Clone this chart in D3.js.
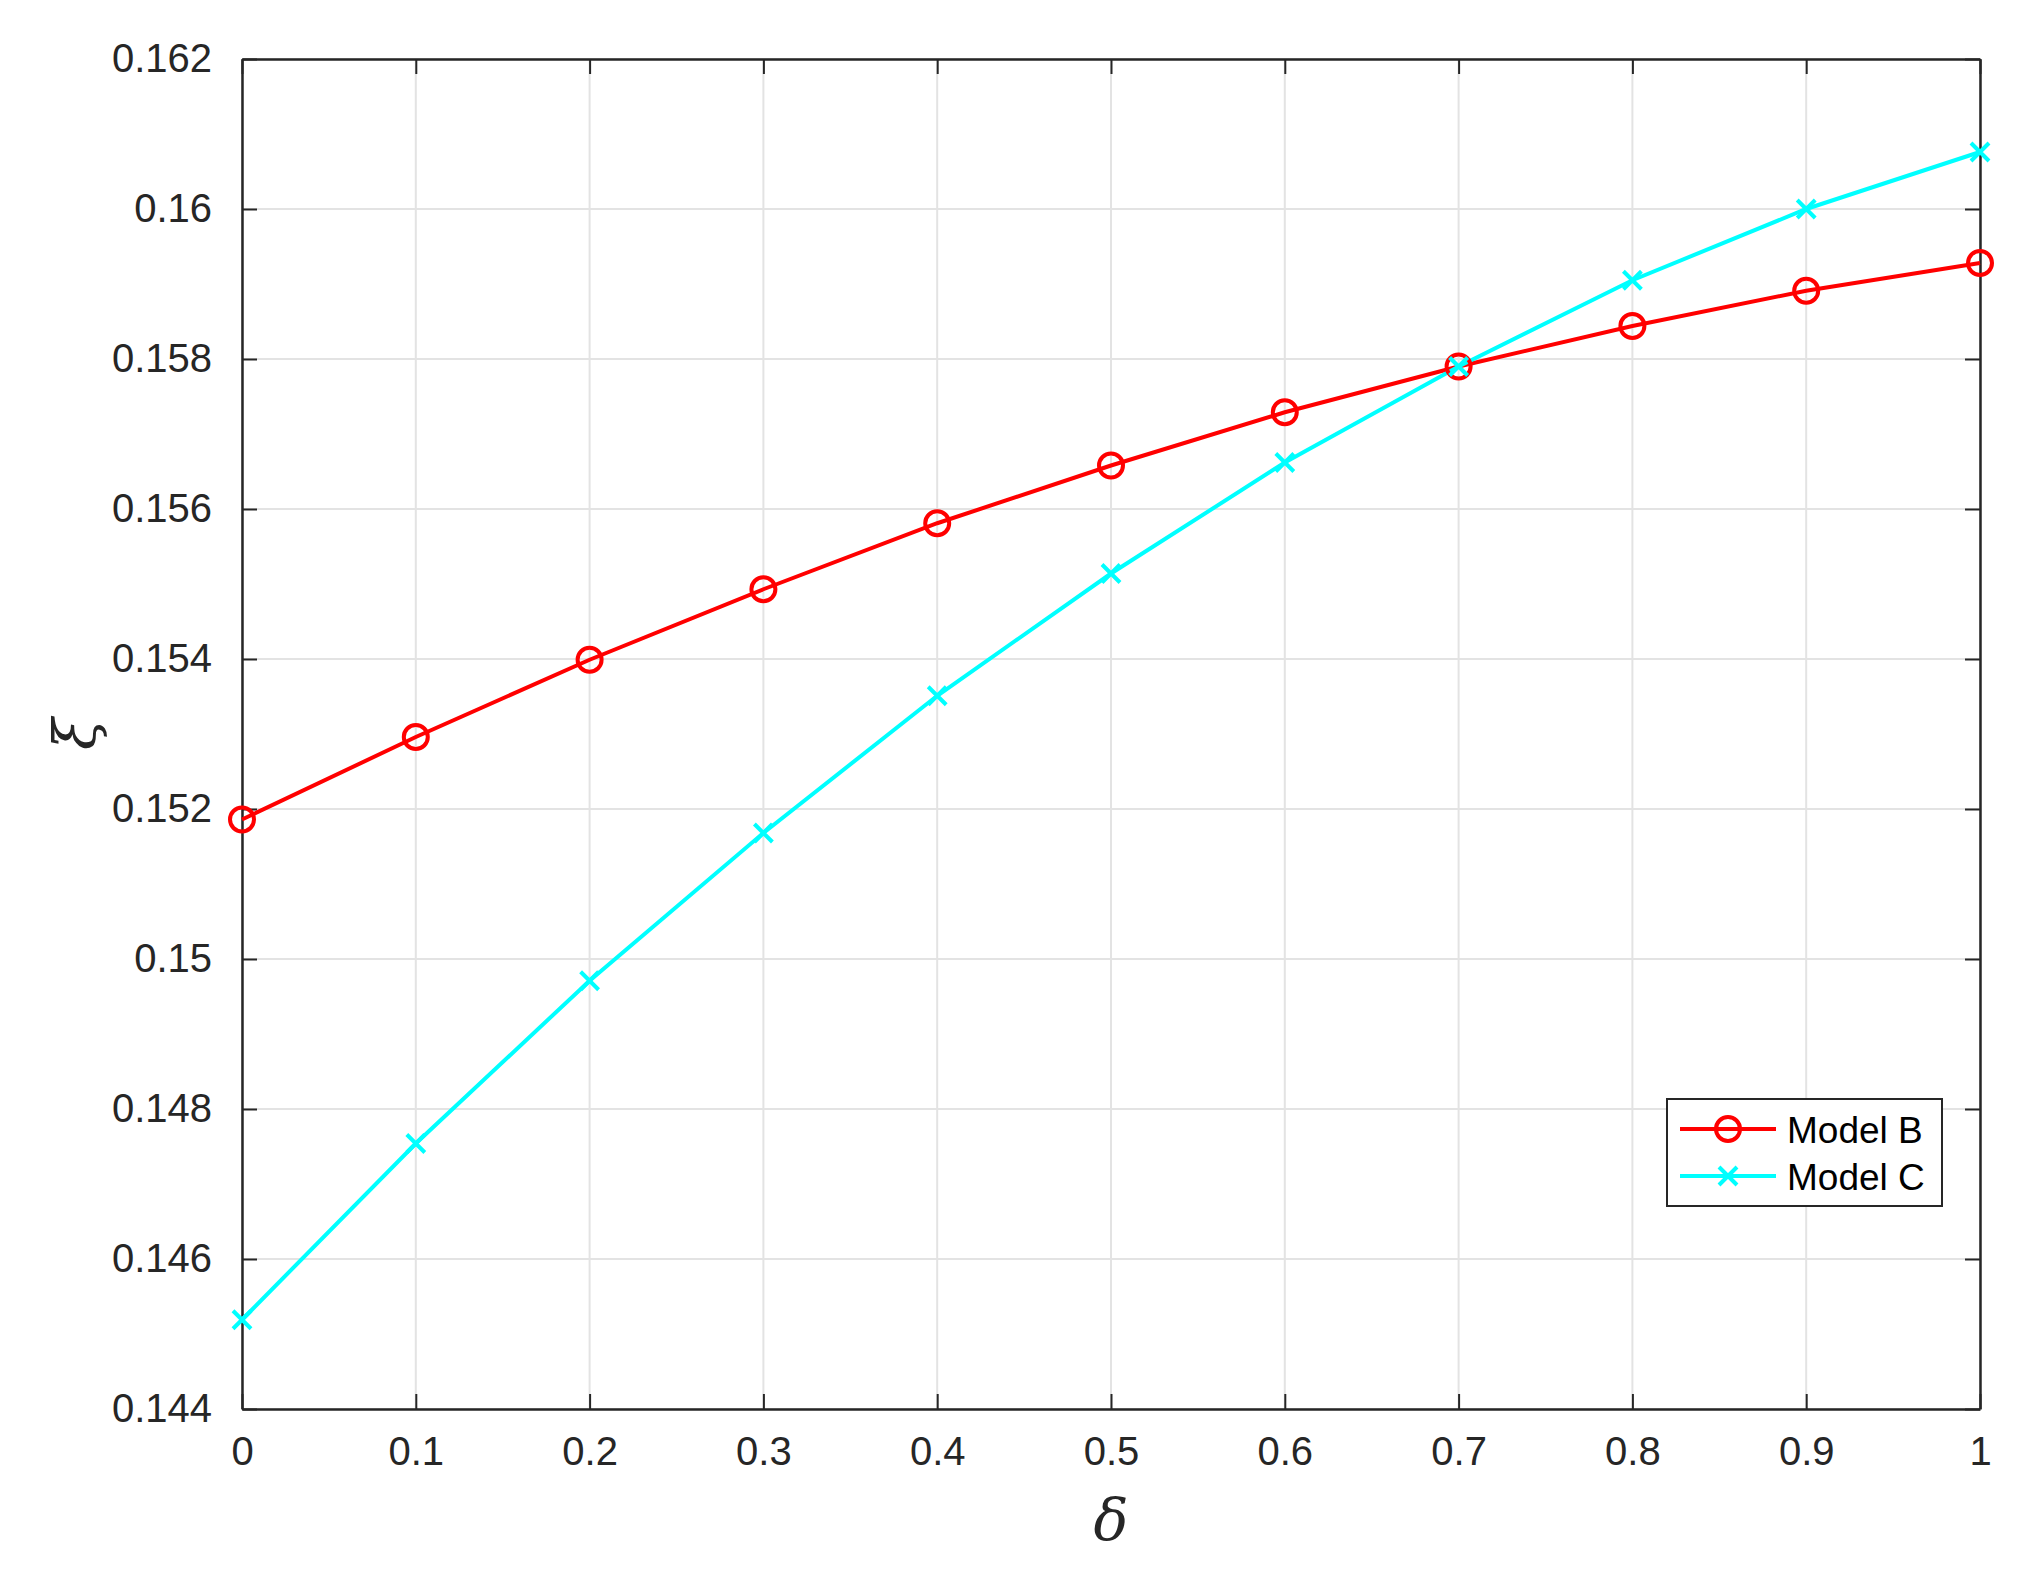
<!DOCTYPE html>
<html><head><meta charset="utf-8">
<script src="https://cdn.jsdelivr.net/npm/d3@7"></script>
<style>body{margin:0;background:#fff}</style></head>
<body><svg id="c" width="2020" height="1590"></svg>
<script>
const deltas=[0,0.1,0.2,0.3,0.4,0.5,0.6,0.7,0.8,0.9,1];
const modelB=[0.15186,0.15296,0.15399,0.15493,0.15581,0.15658,0.15729,0.1579,0.15844,0.15891,0.15928];
const modelC=[0.14519,0.14754,0.14971,0.15168,0.15351,0.15514,0.15662,0.1579,0.15905,0.16,0.16076];
const xTicks=[0,0.1,0.2,0.3,0.4,0.5,0.6,0.7,0.8,0.9,1];
const yTicks=[0.144,0.146,0.148,0.15,0.152,0.154,0.156,0.158,0.16,0.162];

const svg=d3.select("#c");
const L=242,R=1980,T=59,B=1409;
const x=d3.scaleLinear().domain([0,1]).range([L,R]);
const y=d3.scaleLinear().domain([0.144,0.162]).range([B,T]);
const font="Liberation Sans, Arial, sans-serif";
const ax="#262626";
// grid
svg.append("g").selectAll("line").data(xTicks).join("line")
 .attr("x1",d=>x(d)).attr("x2",d=>x(d)).attr("y1",T).attr("y2",B).attr("stroke","#e3e3e3").attr("stroke-width",2);
svg.append("g").selectAll("line").data(yTicks).join("line")
 .attr("y1",d=>y(d)).attr("y2",d=>y(d)).attr("x1",L).attr("x2",R).attr("stroke","#e3e3e3").attr("stroke-width",2);
// axes
const fmt=d=>String(+d.toFixed(3));
const styleAxis=g=>{g.selectAll("path").attr("stroke",ax).attr("stroke-width",2.5);g.selectAll("line").attr("stroke",ax).attr("stroke-width",2);g.selectAll("text").attr("fill",ax).attr("font-family",font).attr("font-size",40);};
svg.append("g").attr("transform",`translate(0,${B})`).call(d3.axisBottom(x).tickValues(xTicks).tickFormat(fmt).tickSizeInner(-15).tickSizeOuter(0).tickPadding(28)).call(styleAxis);
svg.append("g").attr("transform",`translate(0,${T})`).call(d3.axisTop(x).tickValues(xTicks).tickFormat("").tickSizeInner(-15).tickSizeOuter(0)).call(styleAxis);
svg.append("g").attr("transform",`translate(${L},0)`).call(d3.axisLeft(y).tickValues(yTicks).tickFormat(fmt).tickSizeInner(-15).tickSizeOuter(0).tickPadding(30)).call(styleAxis);
svg.append("g").attr("transform",`translate(${R},0)`).call(d3.axisRight(y).tickValues(yTicks).tickFormat("").tickSizeInner(-15).tickSizeOuter(0)).call(styleAxis);
// series
const line=d3.line().x((d,i)=>x(deltas[i])).y(d=>y(d));
svg.append("path").datum(modelB).attr("d",line).attr("fill","none").attr("stroke","#ff0000").attr("stroke-width",4);
svg.append("path").datum(modelC).attr("d",line).attr("fill","none").attr("stroke","#00ffff").attr("stroke-width",4);
svg.append("g").selectAll("circle").data(modelB).join("circle").attr("cx",(d,i)=>x(deltas[i])).attr("cy",d=>y(d)).attr("r",12)
 .attr("fill","none").attr("stroke","#ff0000").attr("stroke-width",4);
const cross=(g,cx,cy,s)=>g.append("path").attr("d",`M${cx-s},${cy-s}L${cx+s},${cy+s}M${cx-s},${cy+s}L${cx+s},${cy-s}`).attr("stroke","#00ffff").attr("stroke-width",4);
const cg=svg.append("g");
modelC.forEach((d,i)=>cross(cg,x(deltas[i]),y(d),9));
// legend
const lg=svg.append("g");
lg.append("rect").attr("x",1667).attr("y",1099).attr("width",275).attr("height",107).attr("fill","#fff").attr("stroke",ax).attr("stroke-width",2);
lg.append("line").attr("x1",1680).attr("x2",1776).attr("y1",1129).attr("y2",1129).attr("stroke","#ff0000").attr("stroke-width",4);
lg.append("circle").attr("cx",1728).attr("cy",1129).attr("r",12).attr("fill","none").attr("stroke","#ff0000").attr("stroke-width",4);
lg.append("line").attr("x1",1680).attr("x2",1776).attr("y1",1176).attr("y2",1176).attr("stroke","#00ffff").attr("stroke-width",4);
cross(lg,1728,1176,9);
lg.append("text").attr("x",1787).attr("y",1143).text("Model B").attr("font-family",font).attr("font-size",37).attr("fill","#000");
lg.append("text").attr("x",1787).attr("y",1190).text("Model C").attr("font-family",font).attr("font-size",37).attr("fill","#000");
// axis labels
svg.append("text").attr("x",1111).attr("y",1540).attr("text-anchor","middle").attr("font-family","DejaVu Serif, serif").attr("font-style","italic").attr("font-size",58).attr("fill",ax).text("δ");
svg.append("text").attr("transform","translate(95,734) rotate(-90)").attr("text-anchor","middle").attr("font-family","DejaVu Serif, serif").attr("font-style","italic").attr("font-size",58).attr("fill",ax).text("ξ");
</script></body></html>
